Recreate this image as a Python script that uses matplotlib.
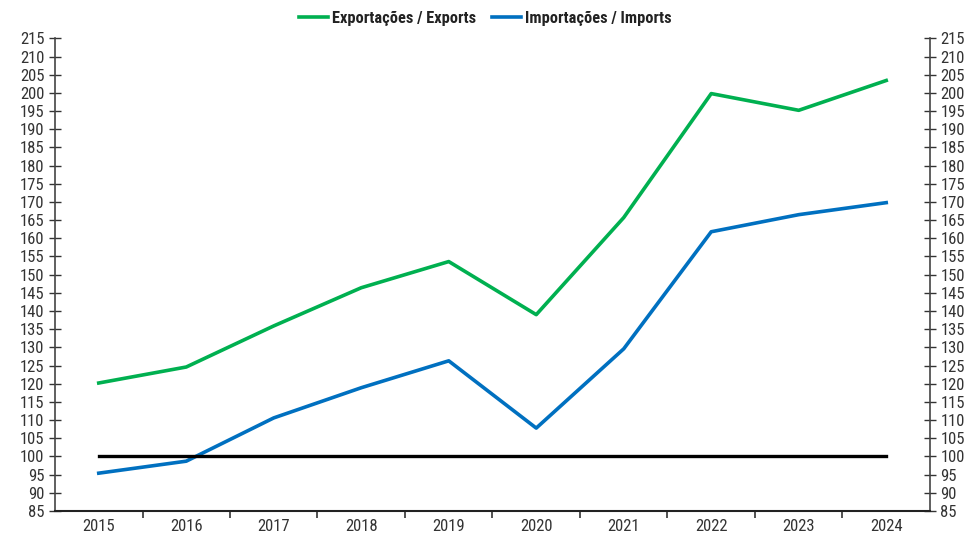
import matplotlib.pyplot as plt
import numpy as np

# Dados
anos = ['2015', '2016', '2017', '2018', '2019', '2020', '2021', '2022', '2023', '2024']
exportacoes = [120.2, 124.6, 135.9, 146.4, 153.6, 139.0, 165.7, 199.8, 195.2, 203.4]
importacoes = [95.4, 98.7, 110.6, 118.9, 126.3, 107.8, 129.6, 161.8, 166.5, 169.8]
base = [100] * len(anos)

plt.rcParams['font.family'] = ['Roboto Condensed', 'Archivo Narrow', 'Liberation Sans', 'DejaVu Sans']

fig = plt.figure(figsize=(9.65, 5.33), dpi=100)
ax = fig.add_axes([0.057, 0.0413, 0.9067, 0.8868])

x = np.arange(len(anos))
ax.plot(x, exportacoes, color='#00B050', linewidth=2.6, label='Exportações / Exports')
ax.plot(x, importacoes, color='#0070C0', linewidth=2.6, label='Importações / Imports')
ax.plot(x, base, color='black', linewidth=2.4)

ax.set_xlim(-0.5, len(anos) - 0.5)
ax.set_ylim(85, 215)
ax.set_yticks(np.arange(85, 216, 5))
ax.tick_params(axis='y', which='both', direction='inout', length=9, width=1,
               labelsize=12, colors='#333333', left=True, right=True,
               labelleft=True, labelright=True, pad=3)
ax.tick_params(axis='y', labelcolor='#333333')

# rótulos dos anos entre as marcas
ax.set_xticks(x)
ax.set_xticklabels(anos, fontsize=12, color='#333333')
ax.tick_params(axis='x', which='major', length=0, pad=6)
ax.set_xticks(np.arange(0.5, len(anos) - 1, 1), minor=True)
ax.tick_params(axis='x', which='minor', direction='out', length=5, width=1.2, color='#333333')

ax.spines['top'].set_visible(False)
for s in ['left', 'right']:
    ax.spines[s].set_color('#444444')
    ax.spines[s].set_linewidth(1.2)
ax.spines['bottom'].set_color('#222222')
ax.spines['bottom'].set_linewidth(1.5)

leg = fig.legend(loc='center', bbox_to_anchor=(0.503, 0.965), ncol=2, frameon=False,
                 prop={'size': 11.8, 'weight': 'bold'}, handlelength=1.75,
                 handletextpad=0.25, columnspacing=1.0)
for t in leg.get_texts():
    t.set_color('#222222')

plt.savefig('out.png', dpi=100)
